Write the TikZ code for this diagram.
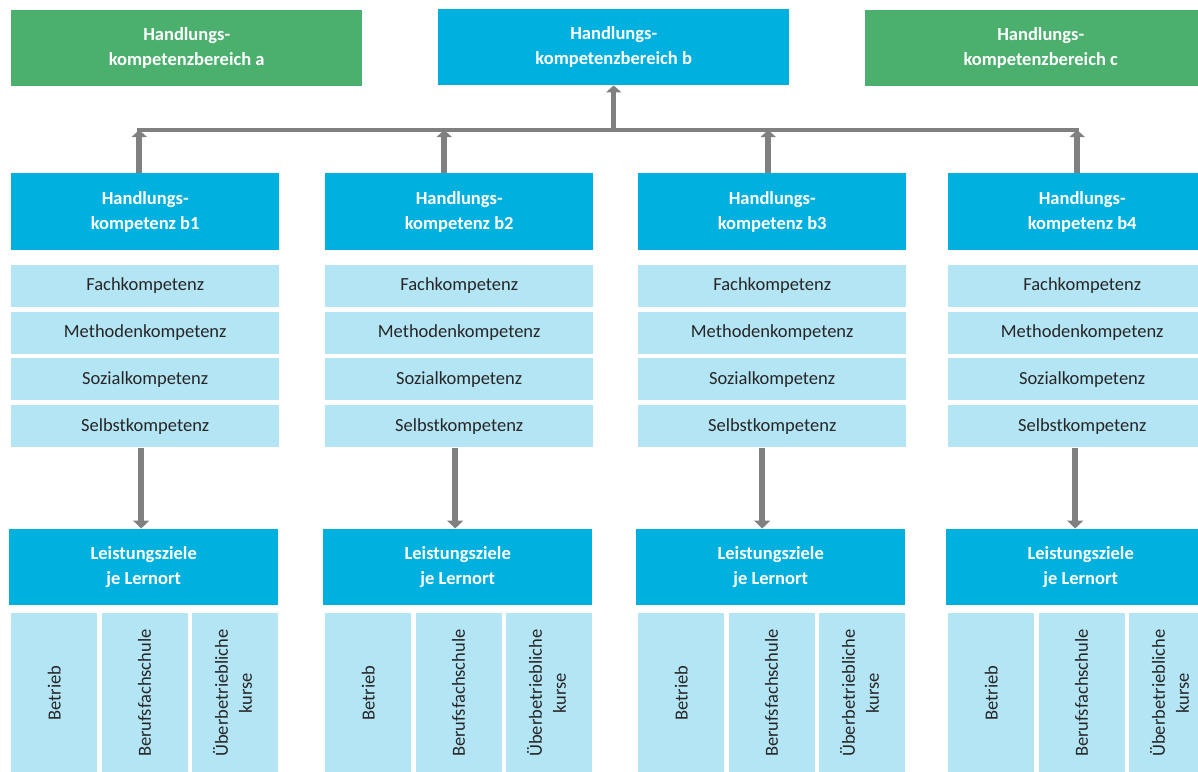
\documentclass[tikz,border=0pt]{standalone}
\usepackage{fontspec}
\setmainfont{Carlito}
\usetikzlibrary{arrows.meta,positioning}

\definecolor{gruen}{HTML}{4BAF6E}
\definecolor{blau}{HTML}{00B0DF}
\definecolor{hellblau}{HTML}{B4E5F5}
\definecolor{grau}{HTML}{808080}

\begin{document}
\begin{tikzpicture}[x=1pt,y=-1pt,
    kasten/.style={inner sep=0pt, align=center, anchor=north west},
    bereich/.style={kasten, fill=gruen, text=white, minimum width=351pt, minimum height=76pt,
        font=\bfseries\fontsize{18.5}{25}\selectfont},
    kopf/.style={kasten, fill=blau, text=white, minimum width=268pt, minimum height=77pt,
        font=\bfseries\fontsize{18.5}{25}\selectfont},
    teil/.style={kasten, fill=hellblau, text=black!85, minimum width=268pt, minimum height=42pt,
        font=\fontsize{18.5}{24}\selectfont},
    ort/.style={kasten, fill=hellblau, text=black!85, minimum width=86pt, minimum height=160pt,
        font=\fontsize{18.5}{24}\selectfont},
    hoch/.style={draw=grau, line width=5.5pt, -{Triangle[width=15pt,length=7pt]}},
    runter/.style={draw=grau, line width=6pt, -{Triangle[width=16pt,length=8pt]}},
    leiste/.style={draw=grau, line width=4pt}]
    \clip (0,0) rectangle (1198,771);

    % Handlungskompetenzbereiche
    \node[bereich] (hba) at (11,10) {Handlungs-\\kompetenzbereich a};
    \node[bereich, fill=blau] (hbb) at (438,9) {Handlungs-\\kompetenzbereich b};
    \node[bereich] (hbc) at (865,10) {Handlungs-\\kompetenzbereich c};
    \coordinate (bar) at (0,130);

    % Spalten b1 bis b4
    \foreach \i/\x/\o/\u in {1/11/-6/-4, 2/325/-15/-4, 3/638/-4/-10, 4/948/-5/-7}{
        \node[kopf] (hk\i) at (\x,173) {Handlungs-\\kompetenz b\i};
        \node[teil, below=14pt of hk\i] (fk\i) {Fachkompetenz};
        \node[teil, below=4.5pt of fk\i] (mk\i) {Methodenkompetenz};
        \node[teil, below=4.5pt of mk\i] (sk\i) {Sozialkompetenz};
        \node[teil, below=4.5pt of sk\i] (slk\i) {Selbstkompetenz};
        \node[kopf, minimum width=269pt, minimum height=76pt, below=81pt of slk\i, xshift=-1.5pt]
            (lz\i) {Leistungsziele\\je Lernort};
        \node[ort, below right=8pt and 2pt of lz\i.south west] (bt\i) {\rotatebox{90}{Betrieb}};
        \node[ort, right=4pt of bt\i] (bfs\i) {\rotatebox{90}{Berufsfachschule}};
        \node[ort, right=4pt of bfs\i] (uek\i)
            {\rotatebox{90}{\begin{tabular}{@{}c@{}}Überbetriebliche\\kurse\end{tabular}}};
        \coordinate (t\i) at ([xshift=\o pt]hk\i.north |- bar);
        \draw[hoch] ([xshift=\o pt]hk\i.north) -- (t\i);
        \draw[runter] ([xshift=\u pt]slk\i.south) -- ([xshift=\u pt]slk\i.south |- lz\i.north);
    }

    \draw[leiste] ([xshift=-2pt]t1) -- ([xshift=2pt]t4);
    \draw[hoch] (hbb.south |- bar) -- (hbb.south);
\end{tikzpicture}
\end{document}
